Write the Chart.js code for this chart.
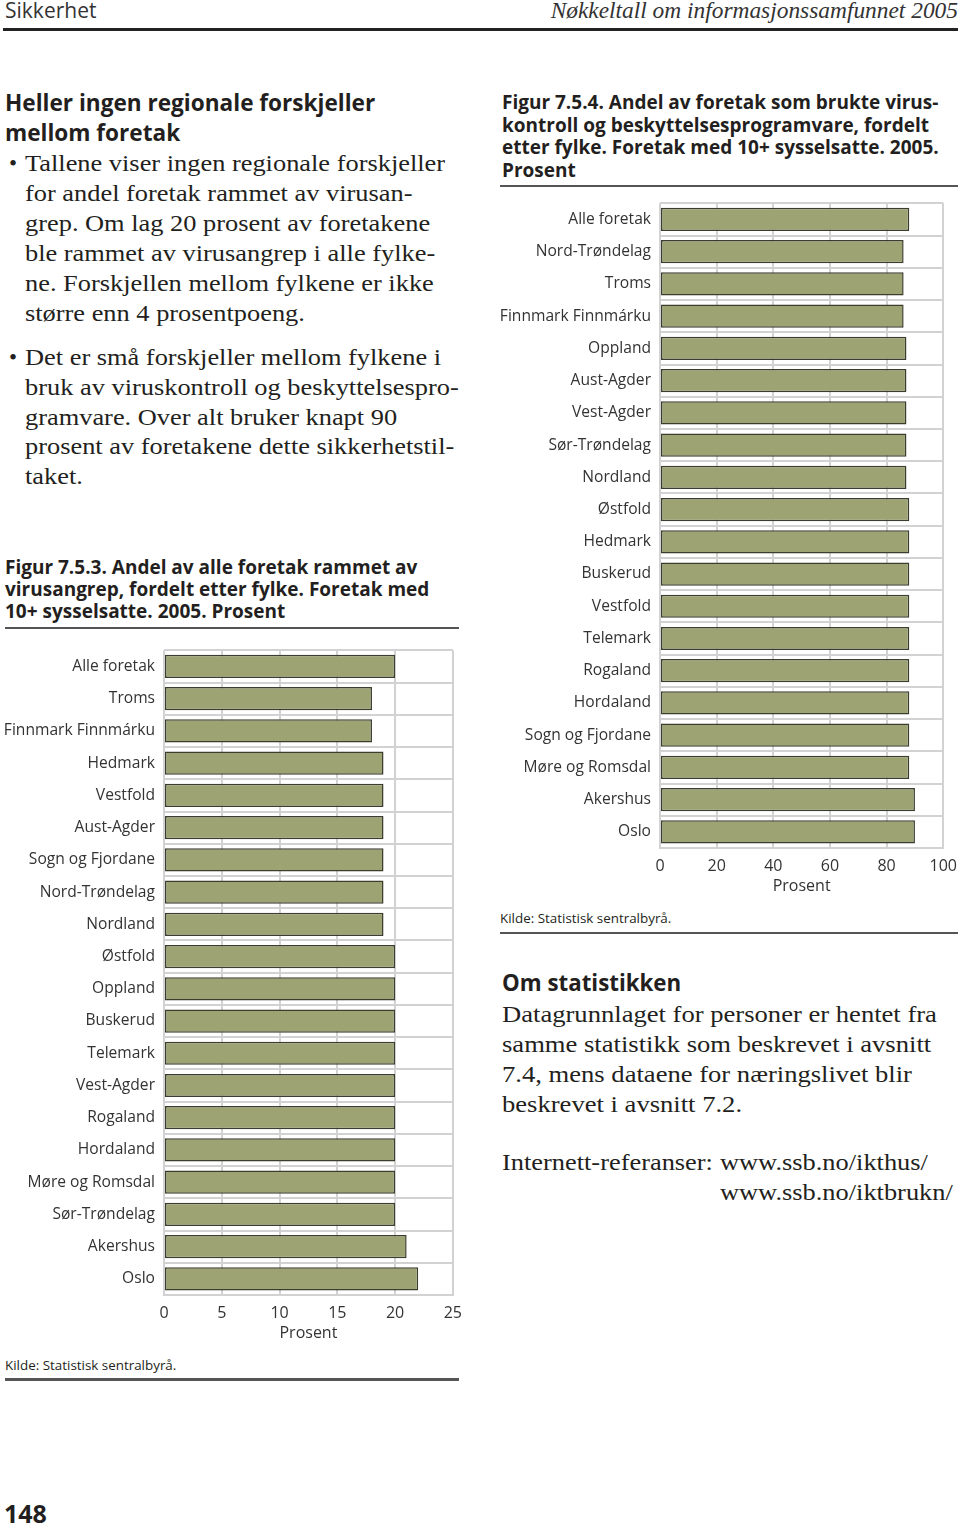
<!DOCTYPE html>
<html lang="no">
<head>
<meta charset="utf-8">
<script src="https://cdn.jsdelivr.net/npm/chart.js@4"></script>
<style>
  html, body { margin: 0; padding: 0; background: #fff; }
  body { width: 960px; height: 1526px; position: relative; overflow: hidden; color: #231f20; }
  .t { position: absolute; white-space: pre; }
  .sans { font-family: "Open Sans", "Noto Sans", sans-serif; }
  .serif { font-family: "Liberation Serif", "DejaVu Serif", serif; }
  .wide { transform: scaleX(1.147); transform-origin: left top; }
  .rule { position: absolute; background: #555; }
  .box { position: absolute; }
</style>
</head>
<body>

<!-- page header -->
<div class="t sans" style="left:5px;top:-3px;font-size:21px;line-height:26px;color:#333">Sikkerhet</div>
<div class="t serif" style="right:2px;top:-3px;font-size:23.4px;line-height:26px;font-style:italic;color:#333">Nøkkeltall om informasjonssamfunnet 2005</div>
<div class="rule" style="left:3px;top:28px;width:955px;height:3px;background:#222"></div>

<!-- left column text -->
<div class="t sans" style="left:5px;top:88px;font-size:22.6px;line-height:30px;font-weight:700">Heller ingen regionale forskjeller
mellom foretak</div>
<div class="t serif" style="left:9px;top:149px;font-size:23px;line-height:30px">•</div>
<div class="t serif wide" style="left:25px;top:149px;font-size:23px;line-height:30px">Tallene viser ingen regionale forskjeller
for andel foretak rammet av virusan-
grep. Om lag 20 prosent av foretakene
ble rammet av virusangrep i alle fylke-
ne. Forskjellen mellom fylkene er ikke
større enn 4 prosentpoeng.</div>
<div class="t serif" style="left:9px;top:343px;font-size:23px;line-height:30px">•</div>
<div class="t serif wide" style="left:25px;top:343px;font-size:23px;line-height:29.8px">Det er små forskjeller mellom fylkene i
bruk av viruskontroll og beskyttelsespro-
gramvare. Over alt bruker knapt 90
prosent av foretakene dette sikkerhetstil-
taket.</div>

<div class="t sans" style="left:5px;top:556px;font-size:19px;line-height:22px;font-weight:700">Figur 7.5.3. Andel av alle foretak rammet av
virusangrep, fordelt etter fylke. Foretak med
10+ sysselsatte. 2005. Prosent</div>
<div class="rule" style="left:5px;top:627px;width:454px;height:2px"></div>

<div class="box" style="left:0px;top:632px;width:471px;height:711px"><canvas id="chart1"></canvas></div>

<div class="t sans" style="left:5px;top:1355px;font-size:13.4px;line-height:20px">Kilde: Statistisk sentralbyrå.</div>
<div class="rule" style="left:5px;top:1378px;width:454px;height:3px"></div>

<!-- right column -->
<div class="t sans" style="left:502px;top:91px;font-size:19px;line-height:22.7px;font-weight:700">Figur 7.5.4. Andel av foretak som brukte virus-
kontroll og beskyttelsesprogramvare, fordelt
etter fylke. Foretak med 10+ sysselsatte. 2005.
Prosent</div>
<div class="rule" style="left:500px;top:185px;width:458px;height:2px"></div>

<div class="box" style="left:495px;top:185px;width:471px;height:711px"><canvas id="chart2"></canvas></div>

<div class="t sans" style="left:500px;top:908px;font-size:13.4px;line-height:20px">Kilde: Statistisk sentralbyrå.</div>
<div class="rule" style="left:500px;top:932px;width:458px;height:2px"></div>

<div class="t sans" style="left:502px;top:968px;font-size:22.3px;line-height:30px;font-weight:700">Om statistikken</div>
<div class="t serif wide" style="left:502px;top:999px;font-size:23.2px;line-height:30px">Datagrunnlaget for personer er hentet fra
samme statistikk som beskrevet i avsnitt
7.4, mens dataene for næringslivet blir
beskrevet i avsnitt 7.2.</div>
<div class="t serif wide" style="left:502px;top:1148px;font-size:23px;line-height:29.5px">Internett-referanser:</div>
<div class="t serif wide" style="left:720px;top:1148px;font-size:23px;line-height:29.5px">www.ssb.no/ikthus/
www.ssb.no/iktbrukn/</div>

<div class="t sans" style="left:4px;top:1497px;font-size:25px;line-height:32px;font-weight:700">148</div>

<script>
// Figur 7.5.3 – rammet av virusangrep (prosent)
const regions1 = ['Alle foretak', 'Troms', 'Finnmark Finnmárku', 'Hedmark', 'Vestfold', 'Aust-Agder',
  'Sogn og Fjordane', 'Nord-Trøndelag', 'Nordland', 'Østfold', 'Oppland', 'Buskerud', 'Telemark',
  'Vest-Agder', 'Rogaland', 'Hordaland', 'Møre og Romsdal', 'Sør-Trøndelag', 'Akershus', 'Oslo'];
const virusAttack = [20, 18, 18, 19, 19, 19, 19, 19, 19, 20, 20, 20, 20, 20, 20, 20, 20, 20, 21, 22];
const ticks1 = { max: 25, step: 5 };

// Figur 7.5.4 – brukte viruskontroll og beskyttelsesprogramvare (prosent)
const regions2 = ['Alle foretak', 'Nord-Trøndelag', 'Troms', 'Finnmark Finnmárku', 'Oppland', 'Aust-Agder',
  'Vest-Agder', 'Sør-Trøndelag', 'Nordland', 'Østfold', 'Hedmark', 'Buskerud', 'Vestfold', 'Telemark',
  'Rogaland', 'Hordaland', 'Sogn og Fjordane', 'Møre og Romsdal', 'Akershus', 'Oslo'];
const antivirus = [88, 86, 86, 86, 87, 87, 87, 87, 87, 88, 88, 88, 88, 88, 88, 88, 88, 88, 90, 90];
const ticks2 = { max: 100, step: 20 };

const FONT = '"Open Sans", "Noto Sans", sans-serif';
const GRID = '#d2d2d2';

function makeChart(id, labels, values, tk, axisWidth) {
  const ctx = document.getElementById(id).getContext('2d');
  return new Chart(ctx, {
    type: 'bar',
    data: {
      labels,
      datasets: [{
        data: values,
        backgroundColor: '#9ea374',
        borderColor: '#3b3e2f',
        borderWidth: 1.5,
        borderSkipped: false,
        barPercentage: 0.72,
        categoryPercentage: 1
      }]
    },
    options: {
      indexAxis: 'y',
      responsive: true,
      maintainAspectRatio: false,
      animation: false,
      // the right edge is set by the last tick label's half width + tick padding
      layout: { padding: { top: 10, right: 0, bottom: 0, left: 0 } },
      plugins: { legend: { display: false }, tooltip: { enabled: false } },
      scales: {
        x: {
          min: 0, max: tk.max,
          grid: { color: GRID, lineWidth: 2, drawTicks: false },
          border: { color: GRID, width: 2 },
          ticks: { stepSize: tk.step, padding: 9, color: '#333', font: { family: FONT, size: 16 } },
          title: { display: true, text: 'Prosent', color: '#333', padding: 0, font: { family: FONT, size: 16 } },
          afterFit: s => { s.height = 48; }
        },
        y: {
          grid: { color: GRID, lineWidth: 2, drawTicks: false },
          border: { display: false },
          ticks: { padding: 9, color: '#333', font: { family: FONT, size: 15.6 } },
          afterFit: s => { s.width = axisWidth; }
        }
      }
    }
  });
}

makeChart('chart1', regions1, virusAttack, ticks1, 164);
makeChart('chart2', regions2, antivirus, ticks2, 165);
</script>
</body>
</html>
